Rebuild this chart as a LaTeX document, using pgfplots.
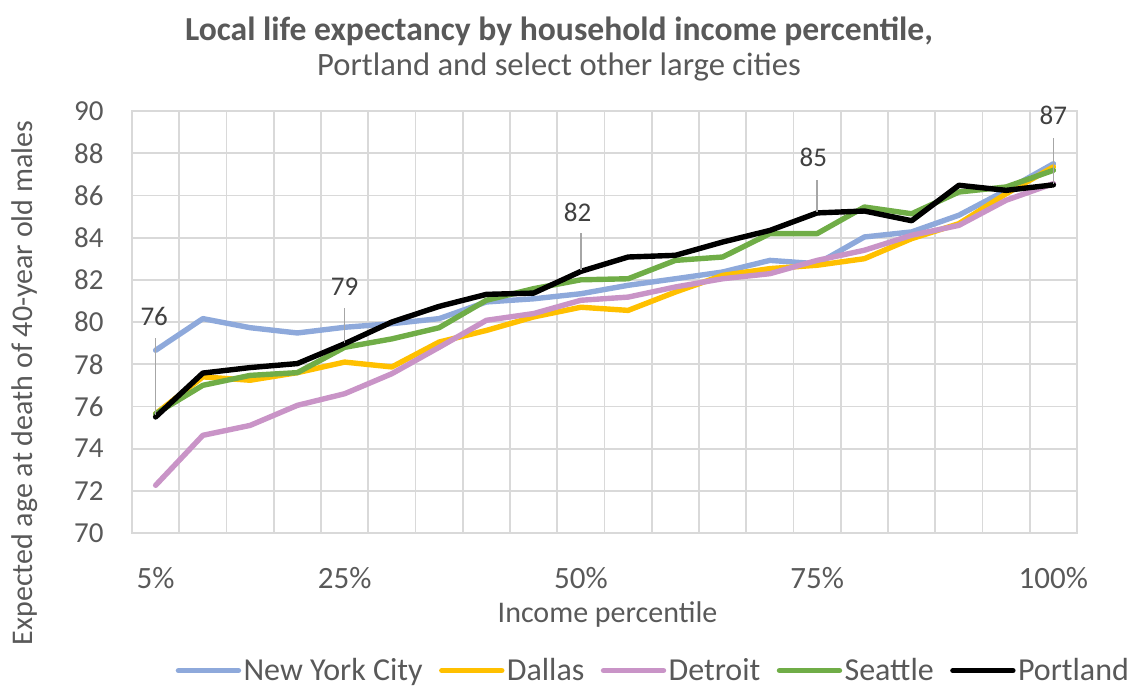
\documentclass[border=0pt]{standalone}
\usepackage{pgfplots}
\pgfplotsset{compat=1.18}
\usepackage{pgfplotstable}
\usepackage{fontspec}
\setmainfont{Carlito}
\definecolor{txt}{HTML}{595959}
\definecolor{grd}{HTML}{D9D9D9}
\definecolor{nyc}{HTML}{8EA9DB}
\definecolor{dal}{HTML}{FFC000}
\definecolor{det}{HTML}{C994C7}
\definecolor{sea}{HTML}{70AD47}
\definecolor{lbl}{HTML}{404040}
\definecolor{lead}{HTML}{A6A6A6}

\pgfplotstableread{
x nyc dal det sea por
0  78.66 75.65 72.26 75.65 75.50
1  80.16 77.40 74.63 77.00 77.58
2  79.73 77.24 75.10 77.47 77.84
3  79.48 77.60 76.05 77.60 78.03
4  79.75 78.10 76.60 78.80 78.97
5  79.92 77.87 77.55 79.20 80.00
6  80.16 79.05 78.80 79.73 80.74
7  80.95 79.60 80.08 81.03 81.31
8  81.10 80.24 80.40 81.58 81.37
9  81.34 80.70 81.03 82.00 82.40
10 81.74 80.55 81.18 82.05 83.08
11 82.05 81.42 81.66 82.92 83.16
12 82.37 82.21 82.05 83.08 83.79
13 82.92 82.53 82.29 84.19 84.34
14 82.76 82.69 82.92 84.19 85.17
15 84.03 83.00 83.40 85.45 85.26
16 84.27 83.95 84.11 85.13 84.80
17 85.06 84.66 84.58 86.16 86.48
18 86.24 86.08 85.77 86.40 86.24
19 87.50 87.35 86.56 87.19 86.50
}\data

\begin{document}
\begin{tikzpicture}
\path[use as bounding box] (0,0) rectangle (567pt,343pt);
\begin{axis}[
  at={(66pt,76.5pt)}, anchor=south west,
  scale only axis, width=472.5pt, height=211pt,
  xmin=-0.5, xmax=19.5, ymin=70, ymax=90,
  xtick={0,4,9,14,19},
  xticklabels={5\%,25\%,50\%,75\%,100\%},
  minor xtick={-0.5,0.5,...,19.5},
  ytick={70,72,...,90},
  xmajorgrids=false, xminorgrids=true, ymajorgrids=true,
  grid style={grd, line width=0.9pt},
  minor grid style={grd, line width=0.9pt},
  axis line style={grd, line width=0.9pt},
  major tick length=0pt, minor tick length=0pt,
  tick style={draw=none},
  /pgf/number format/assume math mode=true,
  yticklabel style={anchor=east, inner sep=0pt, xshift=-14pt, text=txt, font=\fontsize{14.5}{16}\selectfont},
  xticklabel style={anchor=north, inner sep=0pt, yshift=-17pt, text=txt, font=\fontsize{15.5}{17}\selectfont},
  clip=false,
  every axis plot/.append style={line width=2.7pt, line join=round, line cap=round},
  legend columns=5,
  legend style={draw=none, fill=none, at={(0.5519,-0.326)}, anchor=center,
    font=\fontsize{16}{18}\selectfont, text=txt, inner sep=0pt,
    nodes={inner sep=1.2pt},
    /tikz/every even column/.append style={column sep=7pt}},
  legend image code/.code={\draw[#1] (0pt,0pt) -- (30pt,0pt);},
]
\addplot[nyc] table[x=x,y=nyc] {\data};
\addlegendentry{New York City}
\addplot[dal] table[x=x,y=dal] {\data};
\addlegendentry{Dallas}
\addplot[det] table[x=x,y=det] {\data};
\addlegendentry{Detroit}
\addplot[sea] table[x=x,y=sea] {\data};
\addlegendentry{Seattle}
\addplot[black] table[x=x,y=por] {\data};
\addlegendentry{Portland}

\begin{scope}[lead, line width=0.7pt]
\draw (axis cs:0,79.24) -- (axis cs:0,75.6);
\draw (axis cs:4,80.66) -- (axis cs:4,79.0);
\draw (axis cs:9,84.2) -- (axis cs:9,82.45);
\draw (axis cs:14,86.73) -- (axis cs:14,85.2);
\draw (axis cs:19,88.72) -- (axis cs:19,86.55);
\end{scope}
\begin{scope}[every node/.style={text=lbl, font=\fontsize{13.5}{15}\selectfont, inner sep=0pt}]
\node at (axis cs:-0.03,80.24) {76};
\node at (axis cs:4,81.66) {79};
\node at (axis cs:8.93,85.21) {82};
\node at (axis cs:13.92,87.82) {85};
\node at (axis cs:19,89.8) {87};
\end{scope}
\end{axis}
\node[anchor=base, text=txt, font=\fontsize{16.8}{18}\selectfont\bfseries] at (279.5pt,322.5pt) {Local life expectancy by household income percentile,};
\node[anchor=base, text=txt, font=\fontsize{16.3}{18}\selectfont] at (279.5pt,305pt) {Portland and select other large cities};
\node[anchor=base, text=txt, font=\fontsize{15}{16}\selectfont] at (303.75pt,32pt) {Income percentile};
\node[anchor=base, rotate=90, text=txt, font=\fontsize{15}{16}\selectfont] at (16.3pt,151.5pt) {Expected age at death of 40-year old males};
\end{tikzpicture}
\end{document}
